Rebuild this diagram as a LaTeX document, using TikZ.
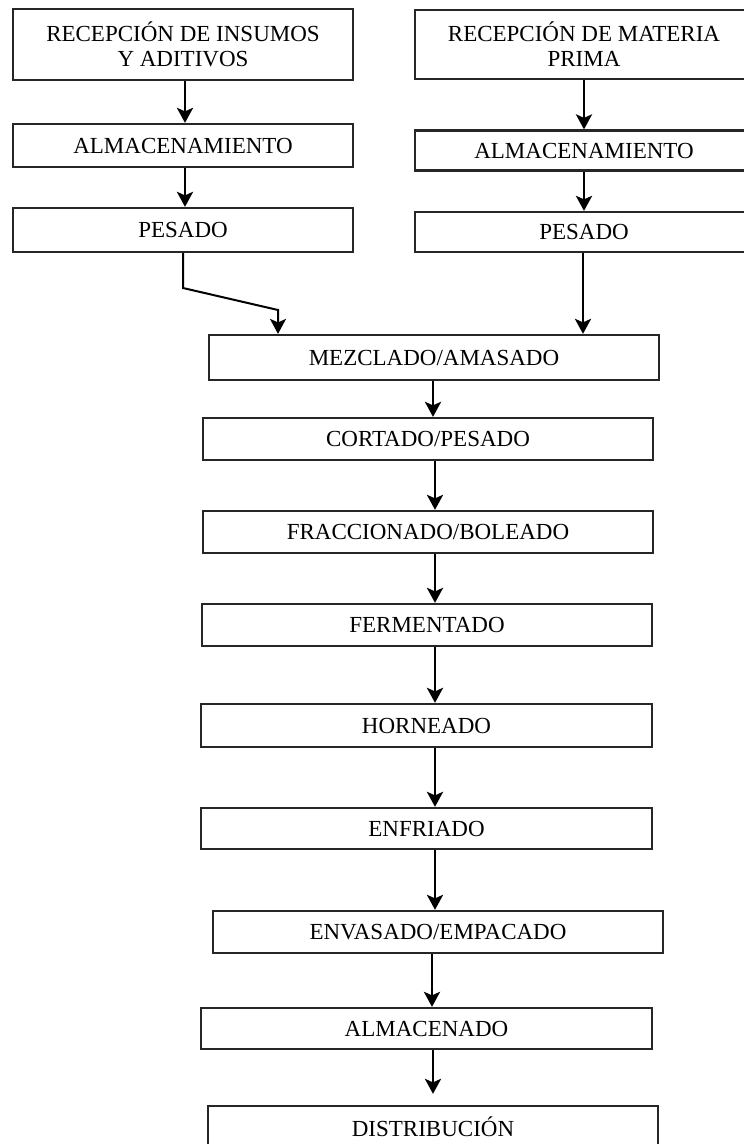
\documentclass[tikz,border=0pt]{standalone}
\usepackage{fontspec}
\setmainfont{Liberation Serif}
\usetikzlibrary{arrows.meta}
\begin{document}
\begin{tikzpicture}[x=1pt,y=-1pt,
  box/.style={draw, line width=2.2pt, draw=black!85, inner sep=0pt, align=center,
    font=\fontsize{23}{25}\selectfont},
  arr/.style={line width=2.8pt, -{Stealth[length=15pt,width=16pt,inset=3.5pt]}}]
\useasboundingbox (0,0) rectangle (744,1144);
\clip (0,0) rectangle (744,1144);
\fill[white] (0,0) rectangle (744,1144);
% left column
\node[box, minimum width=340pt, minimum height=71pt] (ra) at (183,44.5) {RECEPCIÓN DE INSUMOS\\Y ADITIVOS};
\node[box, minimum width=340pt, minimum height=43pt] (la) at (183,145.5) {ALMACENAMIENTO};
\node[box, minimum width=340pt, minimum height=44pt] (lp) at (183,230) {PESADO};
% right column
\node[box, minimum width=338pt, minimum height=69pt] (rb) at (584,44.5) {RECEPCIÓN DE MATERIA\\PRIMA};
\node[box, minimum width=338pt, minimum height=40pt] (rl) at (584,150.5) {ALMACENAMIENTO};
\node[box, minimum width=338pt, minimum height=40pt] (rp) at (584,232) {PESADO};
% main column
\node[box, minimum width=450pt, minimum height=45pt] (mez) at (434,357.5) {MEZCLADO/AMASADO};
\node[box, minimum width=450pt, minimum height=42pt] (cor) at (428,439) {CORTADO/PESADO};
\node[box, minimum width=450pt, minimum height=42pt] (fra) at (428,532) {FRACCIONADO/BOLEADO};
\node[box, minimum width=450pt, minimum height=42pt] (fer) at (427,625) {FERMENTADO};
\node[box, minimum width=451pt, minimum height=43pt] (hor) at (426.5,725.5) {HORNEADO};
\node[box, minimum width=451pt, minimum height=41pt] (enf) at (426.5,828.5) {ENFRIADO};
\node[box, minimum width=450pt, minimum height=42pt] (env) at (438,932) {ENVASADO/EMPACADO};
\node[box, minimum width=451pt, minimum height=41pt] (alm) at (426.5,1028.5) {ALMACENADO};
\node[box, minimum width=450pt, minimum height=42pt] (dis) at (433,1127) {DISTRIBUCIÓN};
% column x positions
\coordinate (xl) at (185,0);
\coordinate (xr) at (584,0);
\coordinate (xr2) at (583,0);
\coordinate (xm) at (433,0);
\coordinate (xn) at (435,0);
\coordinate (xe) at (432,0);
\coordinate (b1) at (183,288);
\coordinate (b2) at (278,310);
% connectors
\draw[arr] (ra.south -| xl) -- (la.north -| xl);
\draw[arr] (la.south -| xl) -- (lp.north -| xl);
\draw[arr] (rb.south -| xr) -- (rl.north -| xr);
\draw[arr] (rl.south -| xr) -- (rp.north -| xr);
\draw[arr, line width=2pt] (lp.south) -- (b1) -- (b2) -- (mez.north -| b2);
\draw[arr] (rp.south -| xr2) -- (mez.north -| xr2);
\draw[arr] (mez.south -| xm) -- (cor.north -| xm);
\draw[arr] (cor.south -| xn) -- (fra.north -| xn);
\draw[arr] (fra.south -| xn) -- (fer.north -| xn);
\draw[arr] (fer.south -| xn) -- (hor.north -| xn);
\draw[arr] (hor.south -| xn) -- (enf.north -| xn);
\draw[arr] (enf.south -| xn) -- (env.north -| xn);
\draw[arr] (env.south -| xe) -- (alm.north -| xe);
\draw[arr] (alm.south -| xm) -- ([yshift=11pt]dis.north -| xm);
\end{tikzpicture}
\end{document}
